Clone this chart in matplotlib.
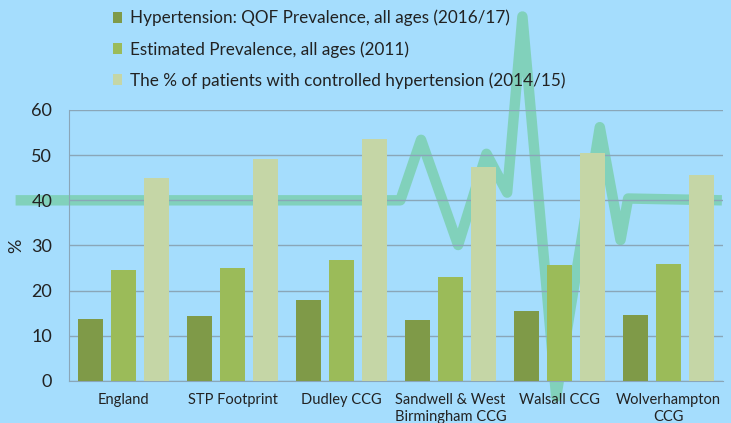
import numpy as np
import matplotlib.pyplot as plt

plt.rcParams['font.family'] = ['Lato', 'DejaVu Sans']

# Categories and series
areas = ['England', 'STP Footprint', 'Dudley CCG', 'Sandwell & West\nBirmingham CCG',
         'Walsall CCG', 'Wolverhampton\nCCG']
qof_prev = [13.7, 14.4, 17.9, 13.6, 15.4, 14.7]
est_prev = [24.6, 25.0, 26.8, 23.0, 25.6, 25.8]
controlled = [44.9, 49.1, 53.6, 47.3, 50.4, 45.7]
series_labels = ['Hypertension: QOF Prevalence, all ages (2016/17)',
                 'Estimated Prevalence, all ages (2011)',
                 'The % of patients with controlled hypertension (2014/15)']

# decorative heartbeat line (x in category units, y in %)
beat_x = [-0.99, 2.54, 2.73, 3.07, 3.33, 3.52, 3.66, 3.97, 4.37, 4.56, 4.63, 5.49]
beat_y = [40, 40, 53.4, 30.1, 50.3, 41.7, 80.7, -3.5, 56.2, 31.2, 40.4, 40]

bg = '#a5ddfd'
colors = ['#7f9a48', '#9bbb59', '#c5d6a6']

fig = plt.figure(figsize=(7.31, 4.23), dpi=100, facecolor=bg)
ax = fig.add_axes([0.0944, 0.0993, 0.8946, 0.6407], facecolor=bg)

x = np.arange(len(areas))
w = 0.23
step = 0.30
for i, (vals, c, lab) in enumerate(zip([qof_prev, est_prev, controlled], colors, series_labels)):
    ax.bar(x + (i - 1) * step, vals, width=w, color=c, label=lab, zorder=3)

ax.plot(beat_x, beat_y, color='#7fd1b8', lw=7.5, alpha=0.95, clip_on=False,
        zorder=1, solid_joinstyle='round', solid_capstyle='butt')

ax.set_xlim(-0.5, 5.5)
ax.set_ylim(0, 60)
ax.set_yticks(range(0, 61, 10))
ax.set_xticks(x)
ax.set_xticklabels(areas, fontsize=10.5, color='#222222', linespacing=1.2)
ax.tick_params(axis='y', labelsize=13, length=0, pad=12, colors='#222222')
ax.tick_params(axis='x', length=0, pad=9)
ax.yaxis.grid(True, color='#8aa6b8', lw=1)
ax.set_ylabel('%', fontsize=13, color='#222222', labelpad=5)

for s in ['top', 'right']:
    ax.spines[s].set_visible(False)
ax.spines['left'].set_color('#8aa6b8')
ax.spines['bottom'].set_color('#8aa6b8')

leg = fig.legend(loc='upper left', bbox_to_anchor=(0.133, 1.013), frameon=False,
                 fontsize=12.3, handlelength=0.55, handleheight=0.55,
                 handletextpad=0.45, labelspacing=0.85)
for t in leg.get_texts():
    t.set_color('#222222')

fig.savefig('out.png', dpi=100, facecolor=bg)
